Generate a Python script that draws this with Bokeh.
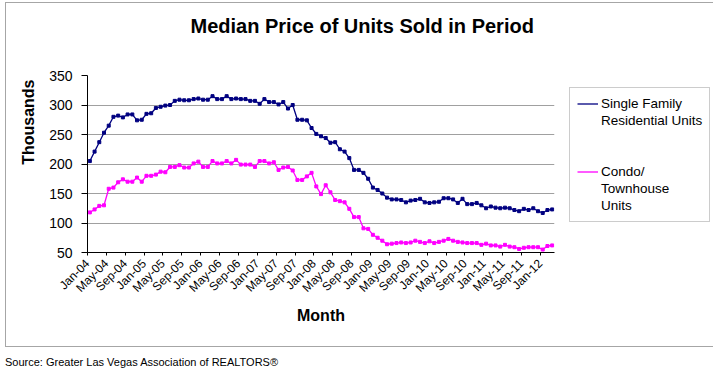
from math import pi
from bokeh.plotting import figure
from bokeh.models import Range1d, FixedTicker, Title, Legend, LegendItem, Div
from bokeh.layouts import column
from bokeh.embed import file_html
from bokeh.resources import INLINE

# ---- data (Jan-04 .. Mar-12, monthly, thousands of $) ----
tick_labels = ["Jan-04", "May-04", "Sep-04", "Jan-05", "May-05", "Sep-05",
               "Jan-06", "May-06", "Sep-06", "Jan-07", "May-07", "Sep-07",
               "Jan-08", "May-08", "Sep-08", "Jan-09", "May-09", "Sep-09",
               "Jan-10", "May-10", "Sep-10", "Jan-11", "May-11", "Sep-11",
               "Jan-12"]

single_family = [205, 221, 237, 253, 265, 280, 282, 279, 284, 284, 274, 275, 285,
                 286, 295, 297, 299, 300, 307, 309, 308, 308, 310, 311, 309,
                 309, 315, 310, 310, 315, 310, 311, 310, 310, 307, 307, 302,
                 310, 305, 305, 301, 305, 294, 300, 275, 275, 274, 261, 251, 247,
                 244, 236, 237, 225, 221, 210, 190, 190, 185, 175, 160, 156,
                 150, 143, 140, 140, 139, 135, 138, 139, 141, 135, 134, 135,
                 136, 142, 142, 140, 134, 141, 132, 132, 134, 130, 125, 128,
                 126, 125, 126, 125, 122, 120, 124, 122, 125, 120, 117, 122, 123]

condo = [118, 123, 129, 130, 158, 160, 169, 174, 170, 170, 177, 170, 180,
         180, 182, 187, 186, 195, 195, 198, 194, 194, 201, 204, 195,
         195, 205, 201, 201, 205, 201, 207, 199, 199, 199, 195, 205,
         205, 201, 203, 190, 194, 195, 189, 173, 173, 179, 185, 162, 149,
         164, 152, 139, 137, 135, 124, 110, 110, 91, 90, 80, 75,
         70, 64, 65, 66, 67, 66, 67, 70, 68, 66, 69, 66,
         68, 70, 73, 70, 68, 67, 66, 66, 66, 63, 65, 62,
         62, 60, 63, 60, 59, 56, 58, 59, 59, 59, 55, 61, 62]

y_ticks = [50, 100, 150, 200, 250, 300, 350]
legend_sf = ["Single Family", "Residential Units"]
legend_condo = ["Condo/", "Townhouse", "Units"]

FONT = "Liberation Sans"
x = [i + 0.5 for i in range(len(single_family))]
n = len(single_family)

p = figure(frame_width=465, frame_height=175, output_backend="svg", toolbar_location=None,
           x_range=Range1d(0, n), y_range=Range1d(50, 350),
           min_border_left=81, min_border_right=157,
           min_border_top=72, min_border_bottom=96)
p.margin = (2, 0, 0, 5)
p.styles = {"border": "1px solid #a6a6a6"}
p.outline_line_color = None

p.xgrid.visible = False
p.ygrid.grid_line_color = "#a0a0a0"

p.yaxis.ticker = FixedTicker(ticks=y_ticks)
p.yaxis.axis_line_color = "black"
p.yaxis.major_tick_out = 6
p.yaxis.major_tick_in = 0
p.yaxis.minor_tick_line_color = None
p.yaxis.major_label_standoff = 9
p.yaxis.major_label_text_font = FONT
p.yaxis.major_label_text_font_size = "14px"
p.yaxis.major_label_text_color = "black"

xt = [4 * i for i in range(len(tick_labels))]
p.xaxis.ticker = FixedTicker(ticks=xt)
p.xaxis.major_label_overrides = {t: lab for t, lab in zip(xt, tick_labels)}
p.xaxis.major_label_orientation = pi / 4
p.xaxis.axis_line_color = "black"
p.xaxis.major_tick_out = 3
p.xaxis.major_tick_in = 0
p.xaxis.minor_tick_line_color = None
p.xaxis.major_label_standoff = 6
p.xaxis.major_label_text_font = FONT
p.xaxis.major_label_text_font_size = "12px"
p.xaxis.major_label_text_color = "black"
p.xaxis.axis_label = "Month"
p.xaxis.axis_label_text_font = FONT
p.xaxis.axis_label_text_font_size = "16px"
p.xaxis.axis_label_text_font_style = "bold"
p.xaxis.axis_label_text_color = "black"
p.xaxis.axis_label_standoff = 4

NAVY = "#000080"
PINK = "#FF00FF"
l_sf = p.line(x, single_family, line_color=NAVY, line_width=1.3)
p.scatter(x, single_family, marker="square", size=3, color=NAVY)
l_co = p.line(x, condo, line_color=PINK, line_width=1.3)
p.scatter(x, condo, marker="square", size=3, color=PINK)
blank = p.line([], [], line_alpha=0)

# spacer between frame and title (added first, so it sits next to the frame)
spacer = Title(text=" ", standoff=15, text_font=FONT, text_font_size="20px")
p.add_layout(spacer, "above")
title = Title(text="Median Price of Units Sold in Period", align="left", offset=103,
              standoff=0, text_font=FONT, text_font_size="20px",
              text_font_style="bold", text_color="black")
p.add_layout(title, "above")

ylab = Title(text="Thousands", align="right", offset=4, standoff=19,
             text_font=FONT, text_font_size="16px", text_font_style="bold",
             text_color="black")
p.add_layout(ylab, "left")

items = [LegendItem(label=legend_sf[0], renderers=[l_sf]),
         LegendItem(label=legend_sf[1], renderers=[blank]),
         LegendItem(label="", renderers=[blank]),
         LegendItem(label="", renderers=[blank]),
         LegendItem(label=legend_condo[0], renderers=[l_co]),
         LegendItem(label=legend_condo[1], renderers=[blank]),
         LegendItem(label=legend_condo[2], renderers=[blank])]
legend = Legend(items=items, location=(15, 30), padding=7, spacing=0, margin=0,
                label_height=17, glyph_height=17, glyph_width=21, label_standoff=3,
                label_text_font=FONT, label_text_font_size="13.5px",
                label_text_color="black", border_line_color="#999999",
                border_line_width=1, background_fill_color="white")
p.add_layout(legend, "right")

src = Div(text="Source: Greater Las Vegas Association of REALTORS&reg;",
          width=400, height=16, margin=(8, 0, 0, 5),
          styles={"font-family": FONT, "font-size": "11px", "color": "black"})

layout = column(p, src)
open("out.html", "w").write(file_html(layout, INLINE))
